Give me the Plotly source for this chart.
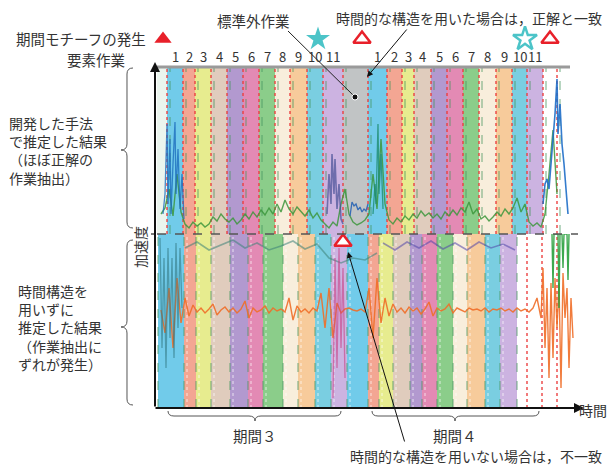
import plotly.graph_objects as go

# ---------------- data ----------------
# element-task segments on the time axis (top: proposed method, bottom: without temporal structure)
top_bounds = [0, 10, 26, 38, 54, 70, 86, 102, 118, 133, 150, 166, 186, 211, 230, 245,
              257, 274, 290, 306, 322, 339, 355, 370, 386, 400]
top_tasks = ["w", "1", "2", "3", "4", "5", "6", "7", "8", "9", "10", "11", "X",
             "1", "2", "3", "4", "5", "6", "7", "8", "9", "10", "11", "e"]
bot_bounds = [1, 27, 39, 54, 73, 91, 106, 126, 141, 158, 174, 190, 211, 222, 236, 253,
              265, 280, 296, 310, 328, 343, 360]
bot_tasks = ["1", "2", "3", "4", "5", "6", "7", "8", "9", "10", "11",
             "1", "2", "3", "4", "5", "6", "7", "8", "9", "10", "11"]
bot_extra_marks = [370, 385, 400]

motif_t = [6, 161, 205, 368, 393]
motif_kind = ["tri", "star", "tri_open", "star_open", "tri_open"]
mismatch_t = [186]
mismatch_v = [166]

# acceleration traces (arbitrary units)
green_t = list(range(4, 404, 4))
green_v = [20, 26, 45, 18, 60, 22, 10, 6, 12, 8,
           11, 7, 10, 17, 13, 20, 15, 12, 16, 10,
           14, 20, 15, 22, 17, 24, 19, 26, 20, 30,
           22, 34, 25, 20, 27, 22, 18, 24, 16, 21,
           14, 10, 6, 12, 8, 30, 45, 20, 12, 9,
           11, 14, 20, 60, 25, 95, 30, 14, 10, 16,
           12, 18, 14, 20, 16, 23, 18, 21, 16, 20,
           15, 22, 18, 24, 19, 26, 22, 32, 20, 25,
           15, 18, 13, 17, 22, 18, 25, 20, 26, 36,
           22, 30, 12, 8, 11, 7, 20, 60, 104, 40]

blue1_t = [6, 8, 10, 11, 13, 14, 16, 18, 19, 21, 23, 25, 27]
blue1_v = [20, 40, 110, 30, 95, 20, 70, 112, 40, 85, 25, 60, 15]
blue2_t = [170, 172, 174, 175, 177, 178, 180, 182, 184, 186]
blue2_v = [20, 60, 30, 80, 40, 75, 25, 50, 15, 10]
blue3_t = [193, 195, 197, 199, 201, 203, 205, 207, 209, 211]
blue3_v = [18, 32, 28, 30, 24, 27, 22, 25, 23, 30]
blue4_t = [216, 218, 219, 221, 222, 224, 226]
blue4_v = [20, 50, 30, 110, 40, 80, 25]
blue5_t = [386, 388, 390, 392, 394, 396, 398, 400, 401, 403, 405, 407, 409, 411]
blue5_v = [30, 50, 55, 45, 70, 95, 120, 155, 100, 130, 90, 70, 40, 20]

orange_t = list(range(4, 388, 4)) + [386, 388, 390, 392, 394, 396, 398, 400, 402, 404,
                                     406, 408, 410, 412, 414, 416]
orange_v = [98, 75, 120, 60, 130, 85, 110, 92, 103, 96,
            100, 95, 99, 104, 93, 98, 101, 96, 100, 95,
            99, 107, 90, 100, 96, 98, 102, 95, 100, 97,
            99, 96, 110, 88, 102, 96, 99, 95, 100, 97,
            115, 80, 120, 70, 105, 95, 99, 100, 98, 97,
            99, 96, 120, 70, 130, 85, 110, 92, 104, 96,
            100, 95, 101, 97, 100, 94, 99, 106, 92, 100,
            97, 99, 104, 95, 100, 98, 96, 100, 98, 99,
            97, 100, 96, 99, 98, 100, 97, 99, 96, 100,
            97, 99, 96, 100, 110, 90,
            140, 60, 120, 30, 125, 50, 130, 80, 125, 20, 135, 90, 120, 40, 110, 70]

teal_t = [3, 5, 7, 9, 11, 13, 15, 17, 19, 21, 23, 25]
teal_v = [170, 60, 150, 40, 160, 70, 150, 50, 165, 80, 160, 100]
upper_t = [28, 40, 52, 64, 76, 88, 100, 112, 124, 136, 148, 160, 172, 184, 196, 208, 220]
upper_v = [160, 166, 158, 163, 168, 160, 165, 158, 162, 167, 159, 164, 150, 145, 150, 148, 155]
upper2_t = [226, 238, 250, 262, 274, 286, 298, 310, 322, 334, 346, 358]
upper2_v = [165, 158, 166, 160, 167, 159, 165, 158, 166, 160, 164, 158]
pink_t = [176, 178, 180, 182, 184, 186, 188]
pink_v = [10, 150, 40, 160, 60, 140, 30]
gspk_t = [395, 396, 397, 401, 402, 403, 405, 406, 407, 410, 411, 412]
gspk_v = [174, 120, 174, 174, 100, 174, 174, 140, 174, 174, 128, 174]

task_colors = {
    "w": "#e9f4ec", "e": "#ffffff",
    "1": "#5ec4e8", "2": "#f29a85", "3": "#e4ea80", "4": "#dcc6b5",
    "5": "#a88cc9", "6": "#e07aaa", "7": "#7cc77a", "8": "#f8ecd8",
    "9": "#f6c48e", "10": "#68c8de", "11": "#c6a9dd", "X": "#b9bcbe",
}

# ---------------- geometry (reference pixel coords; page has an 8px body margin) ----------------
OFF = 8
W, H = 616 - OFF, 467 - OFF
PLOT_L, PLOT_R, PLOT_T, PLOT_B = 157, 578, 25, 408
PW = PLOT_R - PLOT_L
PH = PLOT_B - PLOT_T
TOP_MAX = 167          # band height in top panel
TOP_RANGE = 234 - PLOT_T
BOT_MAX = 174
SPLIT = BOT_MAX / PH
FONT = "Noto Sans CJK JP"
TXT = "#333333"


def px(x):
    return (x - PLOT_L) / PW


def py(y):
    return (PLOT_B - y) / PH


fig = go.Figure()


def add_bands(bounds, tasks, yaxis, ymax):
    centers = [(a + b) / 2 for a, b in zip(bounds[:-1], bounds[1:])]
    widths = [b - a for a, b in zip(bounds[:-1], bounds[1:])]
    fig.add_trace(go.Bar(x=centers, y=[ymax] * len(centers), width=widths, base=0,
                         marker=dict(color=[task_colors[t] for t in tasks], line=dict(width=0)),
                         opacity=0.88, yaxis=yaxis, showlegend=False, hoverinfo="skip"))
    return centers


top_centers = add_bands(top_bounds, top_tasks, "y", TOP_MAX)
add_bands(bot_bounds, bot_tasks, "y2", BOT_MAX)


def vlines(xs, ymax, yaxis, color, dash, width, offset=0):
    X, Y = [], []
    for x in xs:
        X += [x + offset, x + offset, None]
        Y += [0, ymax, None]
    fig.add_trace(go.Scatter(x=X, y=Y, mode="lines", yaxis=yaxis, showlegend=False,
                             hoverinfo="skip", line=dict(color=color, dash=dash, width=width)))


vlines(top_bounds[1:], TOP_MAX, "y", "rgba(70,150,95,0.7)", "dash", 1.1, offset=3)
vlines(top_bounds[1:], TOP_MAX, "y", "rgba(235,60,60,0.85)", "dot", 1.6)
vlines(bot_bounds, BOT_MAX, "y2", "rgba(70,150,95,0.7)", "dash", 1.1)
vlines(bot_bounds[1:], BOT_MAX, "y2", "rgba(255,255,255,0.7)", "dot", 1.0, offset=3)
vlines(bot_extra_marks, BOT_MAX, "y2", "rgba(235,60,60,0.85)", "dot", 1.6)


def sig(t, v, yaxis, color, width=1.3):
    fig.add_trace(go.Scatter(x=t, y=v, mode="lines", yaxis=yaxis, showlegend=False,
                             hoverinfo="skip", line=dict(color=color, width=width)))


sig(green_t, green_v, "y", "rgba(60,150,60,0.85)", 1.4)
sig(blue1_t, blue1_v, "y", "rgba(30,110,190,0.8)")
sig(blue2_t, blue2_v, "y", "rgba(70,80,150,0.7)", 1.6)
sig(blue3_t, blue3_v, "y", "rgba(40,100,180,0.9)")
sig(blue4_t, blue4_v, "y", "rgba(30,140,110,0.8)")
sig(blue5_t, blue5_v, "y", "rgba(30,110,200,0.9)", 1.6)
sig(orange_t, orange_v, "y2", "rgba(240,110,40,0.9)", 1.4)
sig(teal_t, teal_v, "y2", "rgba(50,120,130,0.6)")
sig(upper_t, upper_v, "y2", "rgba(60,130,120,0.55)", 1.6)
sig(upper2_t, upper2_v, "y2", "rgba(80,70,170,0.55)", 1.6)
sig(pink_t, pink_v, "y2", "rgba(200,60,130,0.6)")
sig(gspk_t, gspk_v, "y2", "rgba(40,160,60,0.9)", 1.4)

# motif markers (row above the element-task numbers)
MOTIF_ROW = 234 - 39
sym = {"tri": ("triangle-up", "#e8202a", 15), "tri_open": ("triangle-up-open", "#e8202a", 15),
       "star": ("star", "#4cc4c8", 18), "star_open": ("star-open", "#4cc4c8", 18)}
for t, k in zip(motif_t, motif_kind):
    s, c, sz = sym[k]
    fig.add_trace(go.Scatter(x=[t], y=[MOTIF_ROW], mode="markers", yaxis="y",
                             cliponaxis=False, showlegend=False, hoverinfo="skip",
                             marker=dict(symbol=s, color=c, size=sz,
                                         line=dict(color=c, width=2.5 if "open" in k else 0))))
fig.add_trace(go.Scatter(x=mismatch_t, y=mismatch_v, mode="markers", yaxis="y2",
                         cliponaxis=False, showlegend=False, hoverinfo="skip",
                         marker=dict(symbol="triangle-up", color="white", size=15,
                                     line=dict(color="#e8202a", width=2.5))))

shapes = []
shapes.append(dict(type="line", xref="paper", yref="paper", x0=px(157), x1=px(570),
                   y0=py(67), y1=py(67), line=dict(color="#9a9a9a", width=3)))
shapes.append(dict(type="line", xref="paper", yref="paper", x0=px(157), x1=px(578),
                   y0=py(234), y1=py(234), line=dict(color="#555555", width=1.6, dash="dash")))
shapes.append(dict(type="line", xref="paper", yref="paper", x0=px(151), x1=px(156),
                   y0=py(234), y1=py(234), line=dict(color="#222", width=1.2)))


def path(pts):
    s = ""
    for cmd, coords in pts:
        s += cmd + " " + " ".join(f"{px(a):.5f},{py(b):.5f}" for a, b in coords) + " "
    return s.strip()


def vbrace(x, y0, y1, ym):
    return path([("M", [(x, y0)]), ("Q", [(x - 6, y0), (x - 6, y0 + 6)]),
                 ("L", [(x - 6, ym - 6)]), ("Q", [(x - 6, ym), (x - 12, ym)]),
                 ("Q", [(x - 6, ym), (x - 6, ym + 6)]), ("L", [(x - 6, y1 - 6)]),
                 ("Q", [(x - 6, y1), (x, y1)])])


def hbrace(y, x0, x1, xm):
    return path([("M", [(x0, y)]), ("Q", [(x0, y + 5), (x0 + 6, y + 5)]),
                 ("L", [(xm - 6, y + 5)]), ("Q", [(xm, y + 5), (xm, y + 10)]),
                 ("Q", [(xm, y + 5), (xm + 6, y + 5)]), ("L", [(x1 - 6, y + 5)]),
                 ("Q", [(x1, y + 5), (x1, y)])])


for p in [vbrace(133, 68, 228, 150), vbrace(133, 240, 405, 327),
          hbrace(411, 168, 341, 255), hbrace(411, 372, 539, 455)]:
    shapes.append(dict(type="path", xref="paper", yref="paper", path=p,
                       line=dict(color="#555555", width=1)))

shapes.append(dict(type="line", xref="paper", yref="paper", x0=px(288), y0=py(31),
                   x1=px(355), y1=py(97), line=dict(color="#222", width=1)))
shapes.append(dict(type="circle", xref="paper", yref="paper", x0=px(352), x1=px(358),
                   y0=py(100), y1=py(94), fillcolor="#111", line=dict(color="white", width=1)))

ann = []
ann.append(dict(x=px(155), y=py(62), xref="paper", yref="paper", ax=0, ay=346, text="",
                showarrow=True, arrowhead=2, arrowsize=1, arrowwidth=2, arrowcolor="#111"))
ann.append(dict(x=px(584), y=py(408), xref="paper", yref="paper", ax=-430, ay=0, text="",
                showarrow=True, arrowhead=2, arrowsize=1, arrowwidth=2, arrowcolor="#111"))
ann.append(dict(x=px(367), y=py(77), xref="paper", yref="paper", ax=41, ay=-49, text="",
                showarrow=True, arrowhead=2, arrowsize=1.2, arrowwidth=1, arrowcolor="#111"))
ann.append(dict(x=px(348), y=py(252), xref="paper", yref="paper", ax=57, ay=191, text="",
                showarrow=True, arrowhead=2, arrowsize=1.2, arrowwidth=1, arrowcolor="#111"))

for c, t in zip(top_centers, top_tasks):
    if t in ("w", "e", "X"):
        continue
    ann.append(dict(x=c, y=py(57), xref="x", yref="paper", text=t, showarrow=False,
                    xanchor="center", yanchor="middle",
                    font=dict(family=FONT, size=13, color=TXT)))


def text(x, y, s, size=15, xanchor="center", align="center", angle=0):
    ann.append(dict(x=px(x), y=py(y), xref="paper", yref="paper", text=s, showarrow=False,
                    xanchor=xanchor, yanchor="middle", align=align, textangle=angle,
                    font=dict(family=FONT, size=size, color=TXT)))


text(81, 39, "期間モチーフの発生", size=14.5)
text(96, 59, "要素作業", size=14.5)
text(253, 20, "標準外作業", size=14.5)
text(604, 18, "時間的な構造を用いた場合は，正解と一致", size=14, xanchor="right")
text(604, 456, "時間的な構造を用いない場合は，不一致", size=14, xanchor="right")
text(255, 435, "期間３", size=14.5)
text(455, 435, "期間４", size=14.5)
text(593, 410, "時間", size=14)
text(140, 247, "加速度", size=14, angle=-90)
text(7, 150, "開発した手法<br>で推定した結果<br>（ほぼ正解の<br>作業抽出）", size=14,
     xanchor="left", align="left")
text(16, 327, "時間構造を<br>用いずに<br>推定した結果<br>（作業抽出に<br>ずれが発生）", size=14,
     xanchor="left", align="left")

fig.update_layout(
    width=W, height=H,
    margin=dict(l=PLOT_L - OFF, r=W - (PLOT_R - OFF), t=PLOT_T - OFF, b=H - (PLOT_B - OFF)),
    paper_bgcolor="white", plot_bgcolor="white",
    barmode="overlay", bargap=0, showlegend=False,
    xaxis=dict(range=[0, PW], visible=False, fixedrange=True),
    yaxis=dict(range=[0, TOP_RANGE], domain=[SPLIT, 1], visible=False, fixedrange=True),
    yaxis2=dict(range=[0, BOT_MAX], domain=[0, SPLIT], visible=False, fixedrange=True,
                anchor="x"),
    shapes=shapes, annotations=ann,
)

fig.write_html("out.html")
